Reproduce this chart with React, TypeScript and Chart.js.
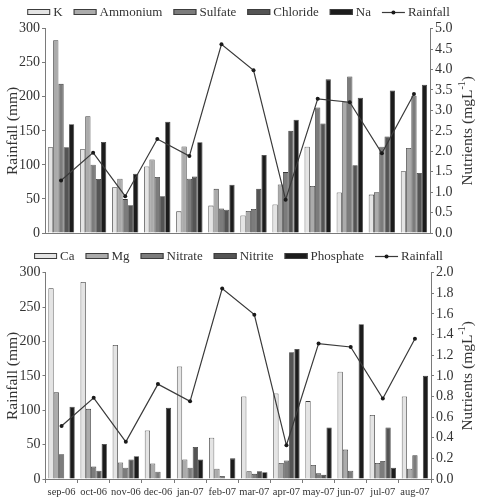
import { useEffect, useRef } from "react";
import { Chart, registerables } from "chart.js";

Chart.register(...registerables);

// Monthly sampling periods
const months = ["sep-06", "oct-06", "nov-06", "dec-06", "jan-07", "feb-07", "mar-07", "apr-07", "may-07", "jun-07", "jul-07", "aug-07"];

// Monthly rainfall (mm)
const rainfall = [77, 118, 54, 138, 113, 277, 239, 49, 197, 192, 117, 204];

// Major ions (mg/L)
const potassium = [2.1, 2.05, 1.12, 1.63, 0.53, 0.67, 0.43, 0.7, 2.11, 0.99, 0.94, 1.51];
const ammonium = [4.72, 2.86, 1.33, 1.8, 2.12, 1.08, 0.54, 1.19, 1.15, 3.2, 1.0, 2.08];
const sulfate = [3.65, 1.67, 0.83, 1.37, 1.33, 0.6, 0.59, 1.49, 3.07, 3.83, 2.11, 3.36];
const chloride = [2.1, 1.32, 0.68, 0.9, 1.38, 0.57, 1.08, 2.5, 2.68, 1.66, 2.36, 1.47];
const sodium = [2.66, 2.23, 1.45, 2.72, 2.22, 1.18, 1.91, 2.77, 3.76, 3.31, 3.49, 3.63];

// Minor ions and nutrients (mg/L)
const calcium = [1.85, 1.91, 1.3, 0.47, 1.09, 0.4, 0.8, 0.83, 0.755, 1.04, 0.62, 0.8];
const magnesium = [0.84, 0.68, 0.16, 0.15, 0.19, 0.1, 0.075, 0.155, 0.136, 0.285, 0.155, 0.1];
const nitrate = [0.24, 0.12, 0.11, 0.07, 0.11, 0.03, 0.05, 0.18, 0.055, 0.08, 0.175, 0.23];
const nitrite = [0, 0.08, 0.19, 0, 0.31, 0, 0.075, 1.23, 0.04, 0, 0.5, 0];
const phosphate = [0.7, 0.34, 0.22, 0.69, 0.19, 0.2, 0.065, 1.26, 0.5, 1.5, 0.11, 1.0];

const SERIF = "'Liberation Serif', 'DejaVu Serif', serif";
const TEXT = "#333333";
const AXIS = "#7a7a7a";
const EDGE = "#3c3c3c";
const SHADES = ["#e4e4e4", "#ababab", "#7c7c7c", "#545454", "#1c1c1c"];

// Legend row of swatches, plus rotated axis titles drawn on the canvas
const decorPlugin = {
  id: "decor",
  afterDraw(chart: any, _args: any, opts: any) {
    const ctx = chart.ctx as CanvasRenderingContext2D;
    const area = chart.chartArea;
    ctx.save();
    ctx.font = `13px ${SERIF}`;
    ctx.textBaseline = "middle";
    const sw = 23;
    const gapText = 3;
    const gapItem = 11;
    const items = chart.data.datasets.map((ds: any) => ({ ds, w: ctx.measureText(ds.label).width }));
    const total = items.reduce((s: number, it: any) => s + sw + gapText + it.w, 0) + gapItem * (items.length - 1);
    let x = (chart.width - total) / 2 + (opts.shift || 0);
    const y = opts.legendY;
    for (const it of items) {
      const ds = it.ds;
      if (ds.type === "line") {
        ctx.strokeStyle = ds.borderColor;
        ctx.lineWidth = 1.2;
        ctx.beginPath();
        ctx.moveTo(x, y + 0.5);
        ctx.lineTo(x + sw, y + 0.5);
        ctx.stroke();
        ctx.fillStyle = ds.pointBackgroundColor;
        ctx.beginPath();
        ctx.arc(x + sw / 2, y + 0.5, 2, 0, Math.PI * 2);
        ctx.fill();
      } else {
        ctx.fillStyle = ds.backgroundColor;
        ctx.fillRect(x, y - 3, sw, 6);
        ctx.strokeStyle = EDGE;
        ctx.lineWidth = 1;
        ctx.strokeRect(x + 0.5, y - 2.5, sw - 1, 5);
      }
      ctx.fillStyle = TEXT;
      ctx.textAlign = "left";
      ctx.fillText(ds.label, x + sw + gapText, y + 1);
      x += sw + gapText + it.w + gapItem;
    }

    const midY = (area.top + area.bottom) / 2;
    // left title
    ctx.font = `15.5px ${SERIF}`;
    ctx.save();
    ctx.translate(12.5, midY);
    ctx.rotate(-Math.PI / 2);
    ctx.textAlign = "center";
    ctx.fillText("Rainfall (mm)", 0, 0);
    ctx.restore();

    // right title with superscript
    ctx.save();
    ctx.translate(opts.rightTitleX, midY);
    ctx.rotate(-Math.PI / 2);
    const main = "Nutrients (mgL";
    const sup = "-1";
    const close = ")";
    ctx.font = `15.5px ${SERIF}`;
    const wMain = ctx.measureText(main).width;
    const wClose = ctx.measureText(close).width;
    ctx.font = `10px ${SERIF}`;
    const wSup = ctx.measureText(sup).width;
    const full = wMain + wSup + wClose;
    let tx = -full / 2;
    ctx.textAlign = "left";
    ctx.font = `15.5px ${SERIF}`;
    ctx.fillText(main, tx, 0);
    tx += wMain;
    ctx.font = `10px ${SERIF}`;
    ctx.fillText(sup, tx, -6);
    tx += wSup;
    ctx.font = `15.5px ${SERIF}`;
    ctx.fillText(close, tx, 0);
    ctx.restore();

    ctx.restore();
  },
};

function barSet(label: string, data: number[], color: string) {
  return {
    type: "bar" as const,
    label,
    data,
    yAxisID: "y1",
    backgroundColor: color,
    borderColor: EDGE,
    borderWidth: 0.8,
    categoryPercentage: 0.82,
    barPercentage: 1,
    order: 1,
  };
}

function rainSet() {
  return {
    type: "line" as const,
    label: "Rainfall",
    data: rainfall,
    yAxisID: "y",
    borderColor: "#3a3a3a",
    borderWidth: 1.2,
    pointRadius: 2,
    pointBackgroundColor: "#1a1a1a",
    pointBorderWidth: 0,
    tension: 0,
    order: -1,
  };
}

function buildOptions(cfg: {
  top: number;
  xHeight: number;
  showX: boolean;
  leftW: number;
  rightW: number;
  rightMax: number;
  rightStep: number;
  legendY: number;
  rightTitleX: number;
}) {
  const tickFont = { family: SERIF, size: 14 };
  return {
    responsive: false,
    animation: false as const,
    layout: { padding: { top: cfg.top, bottom: 0, left: 0, right: 0 } },
    plugins: {
      legend: { display: false },
      tooltip: { enabled: false },
      decor: { legendY: cfg.legendY, rightTitleX: cfg.rightTitleX },
    },
    scales: {
      x: {
        type: "category" as const,
        offset: true,
        grid: {
          display: true,
          drawOnChartArea: false,
          drawTicks: cfg.showX,
          tickLength: 4,
          offset: true,
          color: AXIS,
        },
        border: { display: true, color: AXIS, width: 1 },
        ticks: {
          display: cfg.showX,
          font: { family: SERIF, size: 10.5 },
          color: TEXT,
          padding: 3,
          maxRotation: 0,
          autoSkip: false,
        },
        afterFit: (s: any) => {
          s.height = cfg.xHeight;
        },
      },
      y: {
        position: "left" as const,
        min: 0,
        max: 300,
        ticks: { stepSize: 50, font: tickFont, color: TEXT, padding: 2 },
        grid: { drawOnChartArea: false, tickLength: 3, color: AXIS },
        border: { color: AXIS, width: 1 },
        afterFit: (s: any) => {
          s.width = cfg.leftW;
        },
      },
      y1: {
        position: "right" as const,
        min: 0,
        max: cfg.rightMax,
        ticks: {
          stepSize: cfg.rightStep,
          font: tickFont,
          color: TEXT,
          padding: 2,
          callback: (v: any) => Number(v).toFixed(1),
        },
        grid: { drawOnChartArea: false, tickLength: 3, color: AXIS },
        border: { color: AXIS, width: 1 },
        afterFit: (s: any) => {
          s.width = cfg.rightW;
        },
      },
    },
  };
}

export default function App() {
  const topRef = useRef<HTMLCanvasElement>(null);
  const bottomRef = useRef<HTMLCanvasElement>(null);

  useEffect(() => {
    const top = new Chart(topRef.current as HTMLCanvasElement, {
      type: "bar",
      data: {
        labels: months,
        datasets: [
          barSet("K", potassium, SHADES[0]),
          barSet("Ammonium", ammonium, SHADES[1]),
          barSet("Sulfate", sulfate, SHADES[2]),
          barSet("Chloride", chloride, SHADES[3]),
          barSet("Na", sodium, SHADES[4]),
          rainSet(),
        ] as any,
      },
      options: buildOptions({
        top: 28.7,
        xHeight: 13,
        showX: false,
        leftW: 45,
        rightW: 47,
        rightMax: 5,
        rightStep: 0.5,
        legendY: 12,
        rightTitleX: 468,
      }) as any,
      plugins: [decorPlugin],
    });

    const bottom = new Chart(bottomRef.current as HTMLCanvasElement, {
      type: "bar",
      data: {
        labels: months,
        datasets: [
          barSet("Ca", calcium, SHADES[0]),
          barSet("Mg", magnesium, SHADES[1]),
          barSet("Nitrate", nitrate, SHADES[2]),
          barSet("Nitrite", nitrite, SHADES[3]),
          barSet("Phosphate", phosphate, SHADES[4]),
          rainSet(),
        ] as any,
      },
      options: buildOptions({
        top: 26.7,
        xHeight: 23,
        showX: true,
        leftW: 45.5,
        rightW: 46,
        rightMax: 2,
        rightStep: 0.2,
        legendY: 10,
        rightTitleX: 468,
      }) as any,
      plugins: [decorPlugin],
    });

    return () => {
      top.destroy();
      bottom.destroy();
    };
  }, []);

  return (
    <div style={{ position: "absolute", left: 0, top: 0, width: 477, height: 502, background: "#ffffff" }}>
      <canvas ref={topRef} width={477} height={246} style={{ display: "block" }} />
      <canvas ref={bottomRef} width={477} height={256} style={{ display: "block" }} />
    </div>
  );
}
